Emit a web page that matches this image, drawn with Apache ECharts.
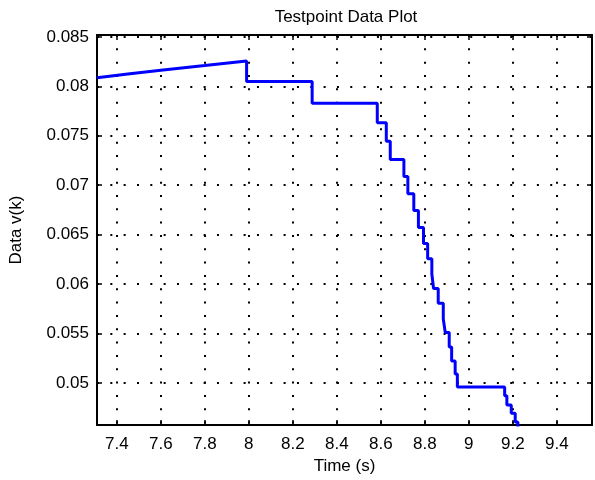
<!DOCTYPE html>
<html>
<head>
<meta charset="utf-8">
<script src="https://cdn.jsdelivr.net/npm/echarts@6/dist/echarts.min.js"></script>
<style>
  html, body { margin: 0; padding: 0; background: #fff; }
  #chart { width: 595px; height: 480px; }
</style>
</head>
<body>
<div id="chart"></div>
<script>
// ---- Data ----
const titleText = 'Testpoint Data Plot';
const xName = 'Time (s)';
const yName = 'Data v(k)';

const xMin = 7.31, xMax = 9.56;
const yMin = 0.04573, yMax = 0.0852;

// smooth rising segment at the start
const riseT = [7.31, 7.45, 7.60, 7.80, 7.99];
const riseV = [0.08087, 0.08126, 0.08164, 0.08211, 0.08258];

// staircase: value stepV[i] holds from stepT[i] until stepT[i+1]
const stepT = [7.99, 8.288, 8.584, 8.625, 8.643, 8.705, 8.723, 8.750, 8.771, 8.794,
               8.813, 8.832, 8.840, 8.861, 8.884, 8.893, 8.911, 8.922, 8.938, 8.948,
               9.163, 9.173, 9.193, 9.211, 9.223];
const stepV = [0.08049, 0.07829, 0.07632, 0.07444, 0.07260, 0.07089, 0.06915, 0.06744, 0.06573, 0.06411,
               0.06257, 0.06102, 0.05954, 0.05806, 0.05648, 0.05510, 0.05362, 0.05221, 0.05089, 0.04958,
               0.04869, 0.04777, 0.04694, 0.04605, 0.04520];

// ---- build polyline vertices from the arrays ----
const pts = [];
for (let i = 0; i < riseT.length; i++) pts.push([riseT[i], riseV[i]]);
let prev = riseV[riseV.length - 1];
for (let i = 0; i < stepT.length; i++) {
  pts.push([stepT[i], prev]);
  pts.push([stepT[i], stepV[i]]);
  prev = stepV[i];
}

const FONT = 'Liberation Sans, Arial, Helvetica, sans-serif';
const FS = 17;

function isMultiple(v, step) {
  const r = v / step;
  return Math.abs(r - Math.round(r)) < 1e-6;
}
const xFmt = v => isMultiple(v, 0.2) ? String(+v.toFixed(4)) : '';
const yFmt = v => isMultiple(v, 0.005) ? String(+v.toFixed(4)) : '';

const gridLine = { show: true, lineStyle: { color: '#000', width: 2, type: [2, 11.33] } };
const axLine = { show: true, onZero: false, lineStyle: { color: '#000', width: 2 } };
const tick = { show: true, inside: true, length: 5, lineStyle: { color: '#000', width: 1.5 } };

const chart = echarts.init(document.getElementById('chart'), null, { renderer: 'canvas' });
chart.setOption({
  animation: false,
  backgroundColor: '#fff',
  grid: { left: 96, top: 35, width: 500, height: 400, containLabel: false },
  graphic: [{
    type: 'text', x: 346, y: 17.5,
    style: { text: titleText, align: 'center', verticalAlign: 'middle',
             font: FS + 'px ' + FONT, fill: '#000' }
  }],
  xAxis: [{
    type: 'value', min: xMin, max: xMax, splitNumber: 10, position: 'bottom',
    axisLine: axLine, axisTick: tick, splitLine: gridLine,
    axisLabel: { color: '#000', fontSize: FS, fontFamily: FONT, margin: 11, formatter: xFmt },
    name: xName, nameLocation: 'middle', nameGap: 30,
    nameTextStyle: { color: '#000', fontSize: FS, fontFamily: FONT }
  }, {
    type: 'value', min: xMin, max: xMax, splitNumber: 10, position: 'top',
    axisLine: axLine, axisTick: tick, splitLine: { show: false }, axisLabel: { show: false }
  }],
  yAxis: [{
    type: 'value', min: yMin, max: yMax, splitNumber: 8, position: 'left',
    axisLine: axLine, axisTick: tick, splitLine: gridLine,
    axisLabel: { color: '#000', fontSize: FS, fontFamily: FONT, margin: 8, formatter: yFmt },
    name: yName, nameLocation: 'middle', nameGap: 72, nameRotate: 90,
    nameTextStyle: { color: '#000', fontSize: FS, fontFamily: FONT }
  }, {
    type: 'value', min: yMin, max: yMax, splitNumber: 8, position: 'right',
    axisLine: axLine, axisTick: tick, splitLine: { show: false }, axisLabel: { show: false }
  }],
  series: [{
    type: 'line', data: pts, showSymbol: false, clip: true,
    xAxisIndex: 0, yAxisIndex: 0,
    lineStyle: { color: '#0000ff', width: 3 }
  }]
});
</script>
</body>
</html>
